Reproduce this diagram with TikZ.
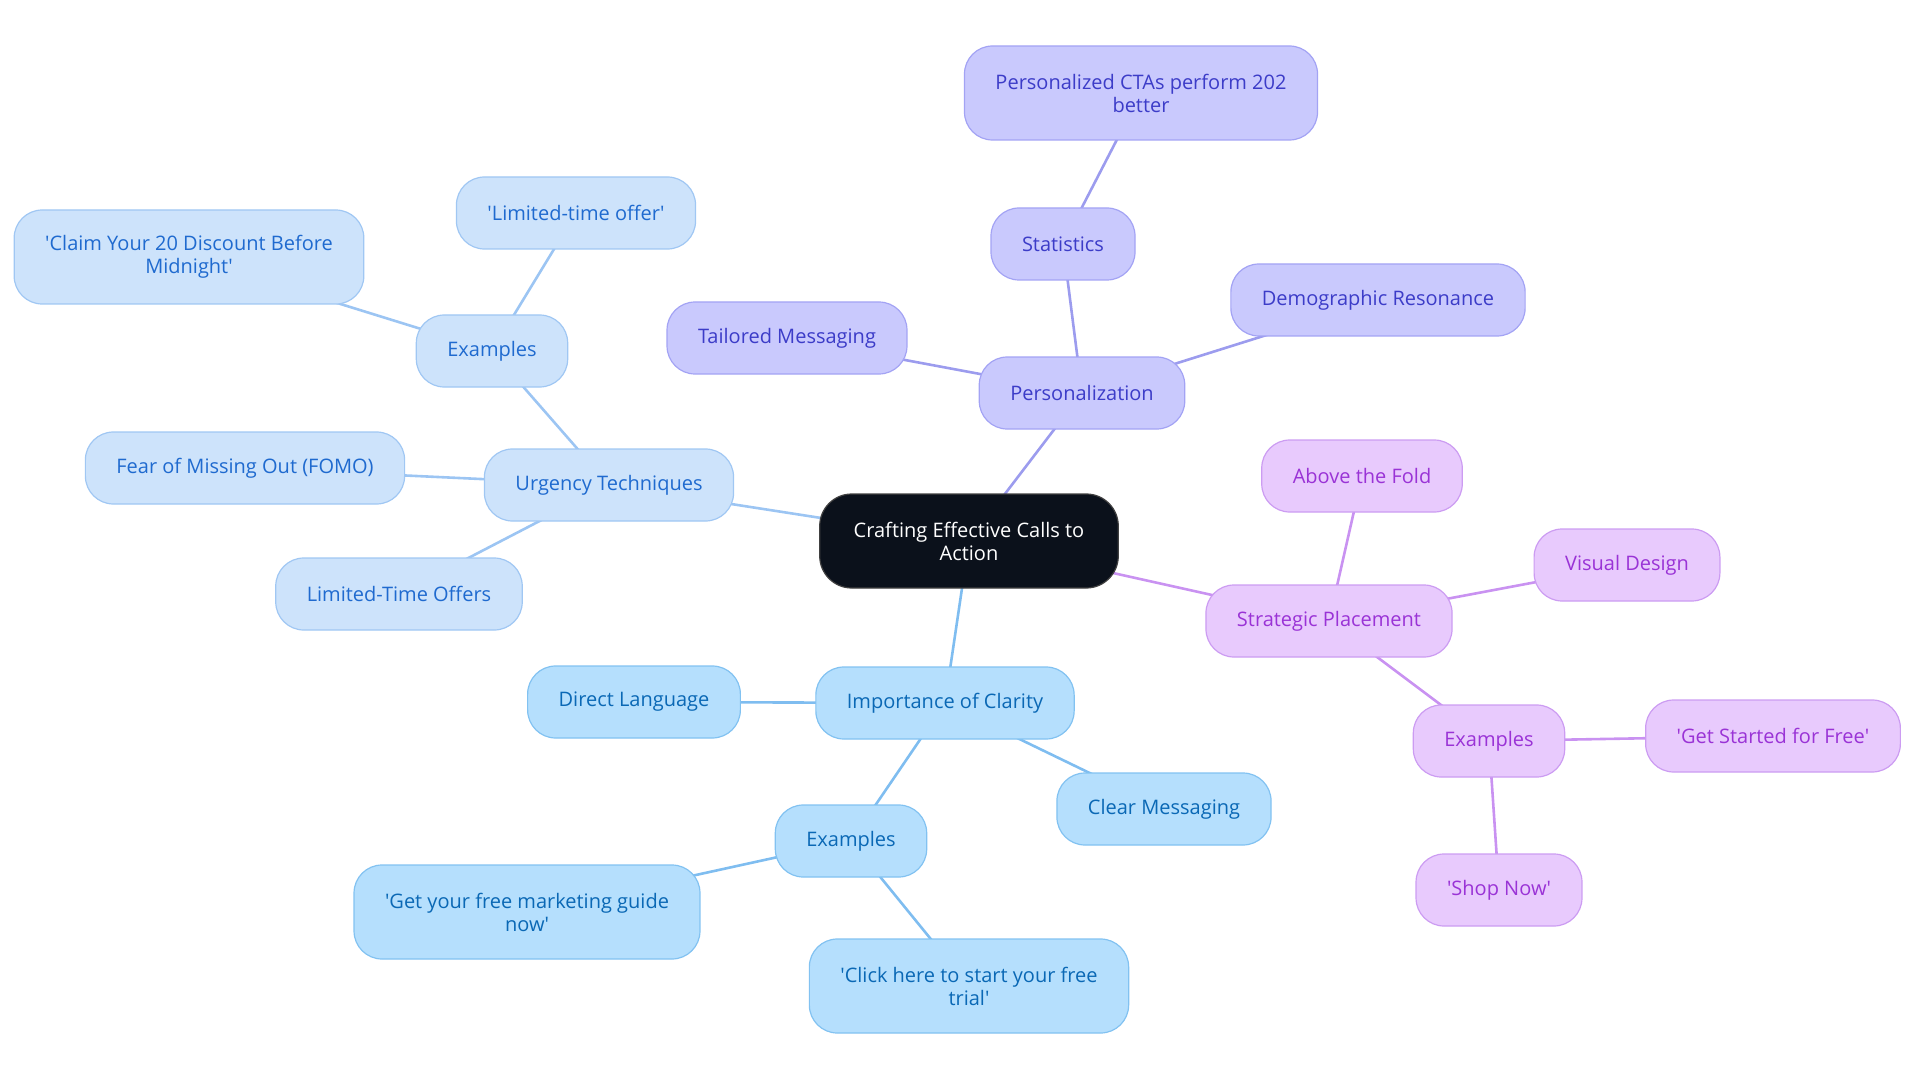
\documentclass[tikz,border=0pt]{standalone}
\usepackage{fontspec}
\setmainfont{Open Sans}
\usetikzlibrary{backgrounds}
\definecolor{rootfill}{HTML}{0B111B}
\definecolor{persfill}{HTML}{C9C9FD}
\definecolor{persdraw}{HTML}{A3A3F4}
\definecolor{perstext}{HTML}{3C3CC8}
\definecolor{persline}{HTML}{9C9CEE}
\definecolor{placefill}{HTML}{E8CAFD}
\definecolor{placedraw}{HTML}{CC9CF2}
\definecolor{placetext}{HTML}{9A33D6}
\definecolor{placeline}{HTML}{C992F1}
\definecolor{urgfill}{HTML}{CDE3FB}
\definecolor{urgdraw}{HTML}{A0C7F3}
\definecolor{urgtext}{HTML}{1F6ACF}
\definecolor{urgline}{HTML}{9CC5F3}
\definecolor{clarfill}{HTML}{B5DFFD}
\definecolor{clardraw}{HTML}{82C2F1}
\definecolor{clartext}{HTML}{0A68B5}
\definecolor{clarline}{HTML}{7FBDF0}
\newcommand{\sq}{\textquotesingle}
\tikzstyle{topic}=[rectangle, rounded corners=28pt, line width=1.2pt, minimum height=72pt, inner xsep=31pt, align=center, font=\fontsize{20}{23}\selectfont]
\tikzstyle{root}=[topic, rounded corners=32pt, minimum height=94pt, inner xsep=34pt, fill=rootfill, draw=black!75, text=white]
\tikzstyle{pers}=[topic, fill=persfill, draw=persdraw, text=perstext]
\tikzstyle{place}=[topic, fill=placefill, draw=placedraw, text=placetext]
\tikzstyle{urg}=[topic, fill=urgfill, draw=urgdraw, text=urgtext]
\tikzstyle{clar}=[topic, fill=clarfill, draw=clardraw, text=clartext]
\tikzstyle{tall}=[minimum height=94pt]
\tikzstyle{link}=[line width=2.6pt]

\begin{document}
\begin{tikzpicture}[x=1pt, y=-1pt]
                \useasboundingbox (0,0) rectangle (1920,1083);
                \node[root] (c) at (969,541) {Crafting Effective Calls to\\Action};
                % personalization
                \node[pers] (p) at (1082,393) {Personalization};
                \node[pers] (ps) at (1063,244) {Statistics};
                \node[pers, tall] (psc) at (1141,93) {Personalized CTAs perform 202\\better};
                \node[pers] (pt) at (787,338) {Tailored Messaging};
                \node[pers] (pd) at (1378,300) {Demographic Resonance};
                % placement
                \node[place] (s) at (1329,621) {Strategic Placement};
                \node[place] (sa) at (1362,476) {Above the Fold};
                \node[place] (sv) at (1627,565) {Visual Design};
                \node[place] (se) at (1489,741) {Examples};
                \node[place] (seg) at (1773,736) {\sq Get Started for Free\sq};
                \node[place] (ses) at (1499,890) {\sq Shop Now\sq};
                % clarity
                \node[clar] (k) at (945,703) {Importance of Clarity};
                \node[clar] (kd) at (634,702) {Direct Language};
                \node[clar] (km) at (1164,809) {Clear Messaging};
                \node[clar] (ke) at (851,841) {Examples};
                \node[clar, tall] (keg) at (527,912) {\sq Get your free marketing guide\\now\sq};
                \node[clar, tall] (kec) at (969,986) {\sq Click here to start your free\\trial\sq};
                % urgency
                \node[urg] (u) at (609,485) {Urgency Techniques};
                \node[urg] (uf) at (245,468) {Fear of Missing Out (FOMO)};
                \node[urg] (ul) at (399,594) {Limited-Time Offers};
                \node[urg] (ue) at (492,351) {Examples};
                \node[urg] (uel) at (576,213) {\sq Limited-time offer\sq};
                \node[urg, tall] (uec) at (189,257) {\sq Claim Your 20 Discount Before\\Midnight\sq};
                \begin{scope}[on background layer]
                    \draw[link, persline] (c.center)--(p.center) (p.center)--(ps.center) (ps.center)--(psc.center)
                        (p.center)--(pt.center) (p.center)--(pd.center);
                    \draw[link, placeline] (c.center)--(s.center) (s.center)--(sa.center) (s.center)--(sv.center)
                        (s.center)--(se.center) (se.center)--(seg.center) (se.center)--(ses.center);
                    \draw[link, clarline] (c.center)--(k.center) (k.center)--(kd.center) (k.center)--(km.center)
                        (k.center)--(ke.center) (ke.center)--(keg.center) (ke.center)--(kec.center);
                    \draw[link, urgline] (c.center)--(u.center) (u.center)--(uf.center) (u.center)--(ul.center)
                        (u.center)--(ue.center) (ue.center)--(uel.center) (ue.center)--(uec.center);
                \end{scope}
            \end{tikzpicture}
\end{document}
